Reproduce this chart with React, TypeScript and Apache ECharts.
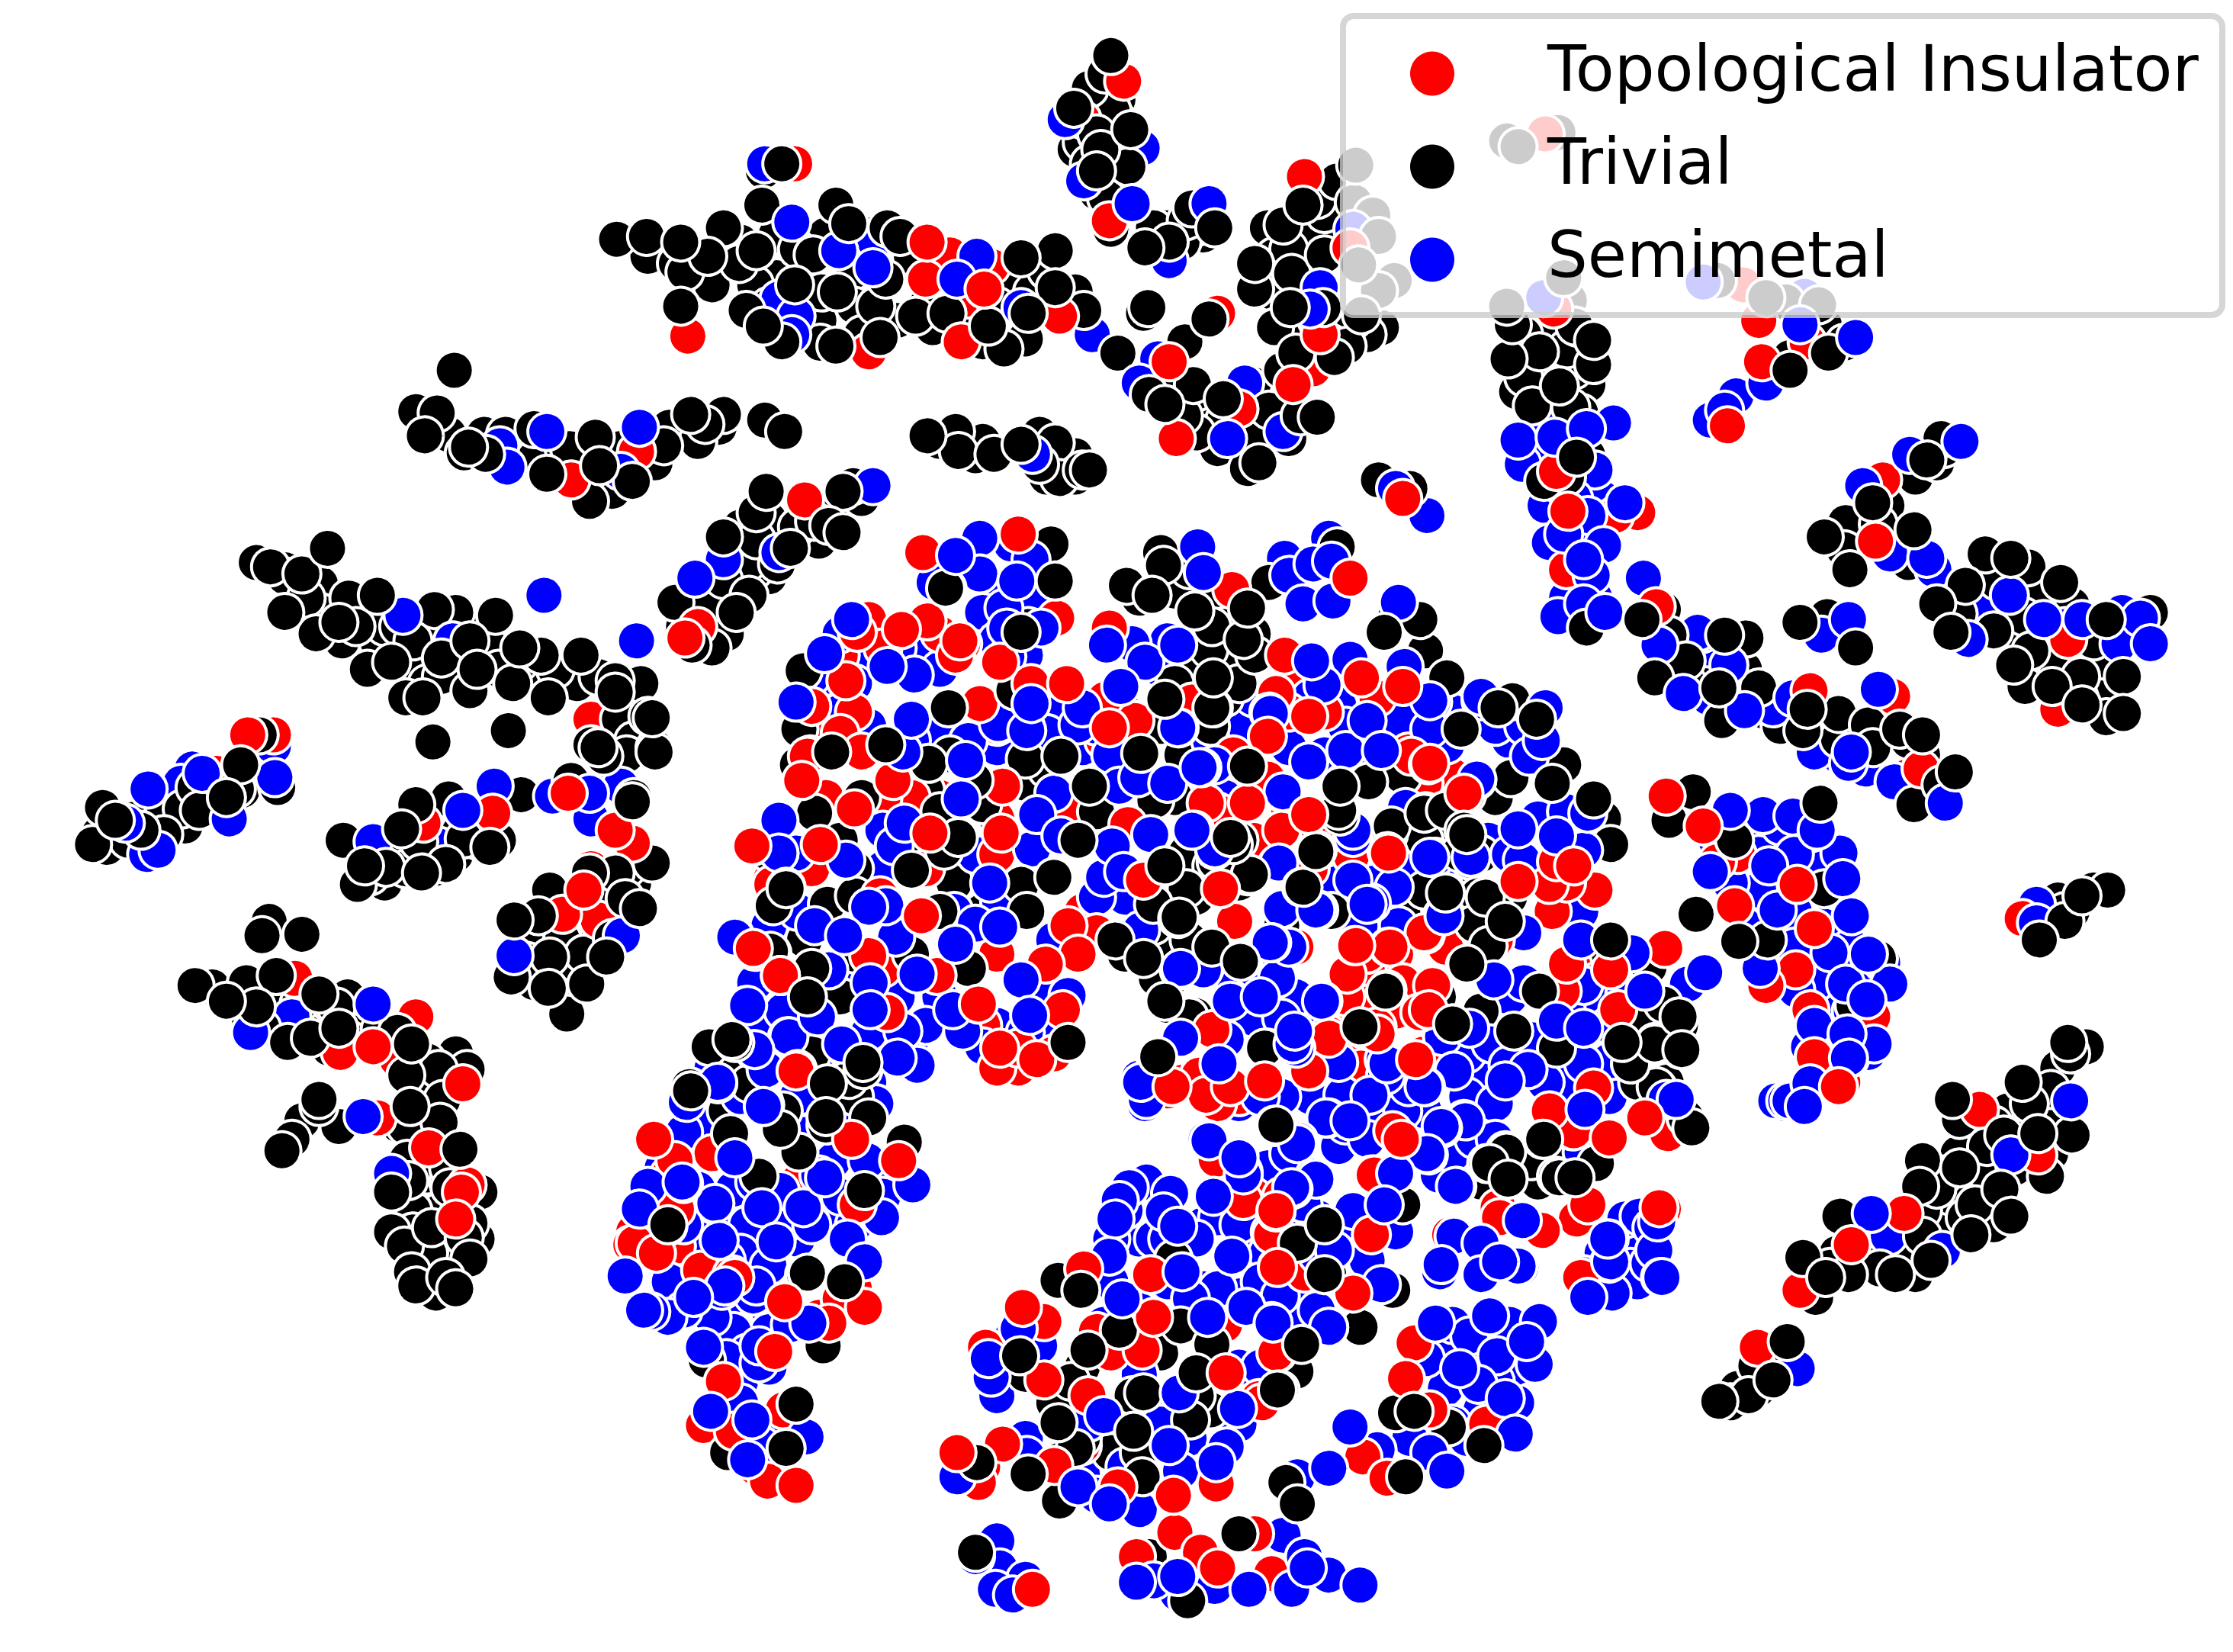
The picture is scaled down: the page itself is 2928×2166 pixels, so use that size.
import React, { useEffect, useRef } from "react";
import * as echarts from "echarts";

type P = [number, number];

const categories = ["Topological Insulator", "Trivial", "Semimetal"];
const colors = ["#ff0000", "#000000", "#0000ff"];

const topologicalBack: P[] = [
[590,460],[610,435],[660,445],[620,455],[575,510],[600,500],[700,510],[720,510],[775,520],[790,500],[660,560],[640,560],[580,560],[700,600],[760,640],[770,655],[690,720],[740,740],[715,750],[700,750],[830,760],[855,775],[870,770],[905,500],[915,470],[930,500],[965,500],[1000,550],[1020,545],[855,570],[890,600],[880,590],[925,580],[960,670],[980,670],[1015,665],[945,720],[950,735],[1000,740],[1010,720],[1120,625],[1100,620],[1050,640],[860,820],[880,840],[900,840],[860,930],[850,950],[770,935],[780,950],[745,1000],[760,1015],[690,1030],[985,690],[960,680],[1150,700],[1115,680],[1110,665],[470,825],[445,865],[475,875],[495,905],[575,925],[600,905],[530,1030],[505,1000],[655,190],[680,210],[690,190],[1095,340],[1150,360],[415,505],[300,800],[315,830],[415,610],[590,515],[1340,545],[1220,600],
[700,575],[620,560],[570,610],[650,610],[750,570],[620,680],[700,670],[920,610],[905,570],[910,665],[960,705],[980,710],[945,700],[1050,660],[1090,640],[500,810],[560,830]
];

const trivialBack: P[] = [
[455,180],[490,180],[505,185],[520,170],[545,165],[560,175],[600,190],[610,165],[580,165],[640,180],[650,215],[630,225],[600,215],[615,215],[575,225],[530,200],[545,195],[500,200],[475,185],[540,215],[605,235],[655,230],[680,225],[700,215],[710,200],[735,190],[725,205],[755,205],[690,240],[705,245],[720,238],
[765,80],[785,70],[760,100],[785,100],[765,115],[780,125],[785,85],[755,105],[770,135],[790,105],[775,70],[820,160],[810,160],[845,165],[830,170],[838,160],
[820,265],[845,280],[825,275],[850,300],[855,315],[870,315],[880,310],[895,300],[860,295],[880,270],[900,260],[893,205],[895,180],[915,175],[915,205],[925,165],[905,175],[890,160],[930,150],[945,130],[925,140],[905,230],[895,230],[925,225],[960,235],[970,230],[950,225],
[300,300],[315,305],[340,305],[355,305],[395,320],[435,315],[430,345],[410,345],[370,320],[400,315],[470,300],[490,310],[505,300],[460,325],
[660,310],[690,310],[685,320],[730,305],[755,320],[735,335],[755,335],
[520,370],[540,365],[525,395],[540,405],[500,420],[510,445],[480,440],[530,400],[560,370],[575,380],[570,355],[590,360],[605,350],[520,410],[495,425],[500,455],
[200,405],[225,410],[245,420],[225,430],[240,450],[255,430],[270,440],[285,470],[280,440],[300,445],[320,430],[335,440],[310,475],[345,455],[350,470],[375,475],[390,470],[405,480],[420,475],[440,495],[435,505],[450,480],[445,520],[430,545],[440,530],[300,480],[285,490],[265,450],[215,420],[200,400],[180,395],[365,465],[330,485],
[80,580],[70,585],[95,575],[120,570],[130,580],[115,565],[150,560],[170,555],[180,545],[185,530],[75,595],[90,590],
[260,600],[270,590],[280,600],[285,610],[305,590],[300,570],[320,600],[335,590],[350,590],[305,610],[270,620],[260,615],[310,575],
[155,695],[170,700],[190,700],[200,710],[210,705],[225,715],[250,720],[260,725],[275,740],[290,750],[300,745],[320,740],[295,765],[280,790],[300,790],[295,810],[315,820],[300,825],[280,825],[310,850],[330,845],[290,850],[310,870],[290,865],[315,885],[300,895],[275,865],[335,870],[245,730],[215,725],[175,715],
[400,630],[415,640],[405,655],[395,660],[375,660],[370,675],[395,680],[410,670],[420,660],[440,610],[445,620],[425,625],[405,680],[375,690],
[1290,880],[1310,880],[1320,870],[1340,875],[1360,860],[1350,850],[1370,840],[1365,825],[1390,820],[1395,805],[1415,820],[1420,795],[1445,790],[1440,765],[1410,780],[1425,775],[1445,750],[1465,735],[1400,790],[1340,880],[1375,810],[1360,835],[1305,865],[1285,890],[1345,895],[1440,810],[1400,860],[1380,855],
[1245,950],[1220,975],[1235,975],[1215,985],[1455,640],[1440,650],[1470,625],
[1300,385],[1325,365],[1335,380],[1290,375],[1340,395],[1370,420],[1385,415],[1405,400],[1430,420],[1410,445],[1395,440],[1430,470],[1445,470],[1455,425],[1470,450],[1475,470],[1460,490],[1475,490],[1440,460],[1345,335],[1360,325],[1325,355],[1365,315],
[1180,450],[1195,445],[1200,470],[1225,470],[1230,495],[1250,510],[1280,515],[1300,510],[1320,515],[1340,520],[1350,530],[1360,560],[1240,500],[1185,480],[1275,505],
[1070,265],[1085,260],[1105,260],[1115,270],[1090,285],[1110,290],[1070,235],[1085,235],[1100,245],[1065,275],[1100,335],[1115,320],
[800,420],[825,415],[835,400],[850,420],[860,440],[880,445],[825,480],[860,470],[860,490],[840,470],[870,480],[815,510],[850,510],[860,530],[845,610],[840,630],[860,610],[825,665],[810,650],[835,660],[820,690],[800,660],[790,670],[1010,580],[1000,590],[1040,600],[1050,640],[1060,630],[1130,670],[1170,710],[1150,720],[1180,720],[1150,760],[1170,760],[1100,810],[1060,815],[1075,815],[1080,830],[1040,830],[760,960],[740,985],[720,965],[760,1010],[785,1000],[800,1020],[780,1020],[745,1025],
[650,555],[690,565],[720,550],[660,570],[640,590],[605,560],[590,590],[600,610],[670,620],[735,540],[770,570],[660,640],[690,640],[640,670],[565,660],[600,670],[680,680],
[870,590],[885,600],[870,620],[935,640],[900,650],[1010,700],[1040,710],[985,640],[1000,625],[1030,620],[985,545],[1000,555],[1050,560],[830,530],[825,560],[815,950],[795,980],[850,990],[840,980],
[510,780],[550,780],[580,790],[600,770],[520,745],[570,740],[545,710],[590,700]
];

const semimetalBack: P[] = [
[470,830],[490,835],[515,835],[480,860],[500,860],[525,860],[490,870],[520,880],[460,860],[470,900],[490,905],[510,885],[530,880],[550,860],[560,870],[570,860],[580,850],[590,840],[600,860],[620,840],[610,830],[575,825],[585,815],[530,830],[490,790],[520,770],[480,795],[565,770],[610,760],[625,740],[640,730],[610,725],[590,745],[545,745],[500,750],[530,720],[555,700],[530,690],[560,690],[595,690],[515,910],[500,925],[540,920],[555,930],[540,935],[480,920],[515,935],[525,950],[520,970],[510,985],[545,1000],[535,1015],[540,960],[480,840],[465,820],
[590,445],[610,460],[630,455],[650,450],[600,480],[580,475],[570,475],[660,470],[690,430],[695,410],[725,420],[720,460],[700,450],[735,420],[590,500],[610,510],[640,520],[660,515],[680,520],[700,525],[735,515],[745,500],[770,510],[760,525],[780,530],[780,580],[685,600],[620,610],[670,640],[740,660],[770,630],[790,630],[560,640],[540,650],[630,700],[660,700],[730,695],[700,720],[720,725],[740,725],[690,735],[650,720],[550,710],[575,755],[560,770],[600,780],[615,775],[570,790],
[820,450],[815,470],[850,520],[870,510],[880,490],[910,480],[920,490],[940,495],[945,510],[975,515],[995,500],[1020,500],[1050,510],[1060,520],[1070,510],[860,560],[905,525],[930,530],[960,530],[940,620],[965,620],[990,610],[1015,610],[1045,590],[1060,600],[1080,575],[1100,570],[955,650],[1070,655],[1110,640],[1070,690],[1060,700],[1100,710],[1120,700],[1130,720],[1075,730],[910,700],[880,680],[860,680],[880,715],[900,715],[925,710],[1030,740],[1040,750],[1085,760],[1100,760],[1130,745],[1130,770],[1050,775],[1000,780],[985,780],[965,780],[945,790],[920,770],[900,770],[890,820],[905,810],[940,805],[960,800],[1010,825],[1035,800],[1020,810],[1050,800],[1030,770],[850,770],[870,775],[885,770],
[805,830],[790,850],[800,870],[820,870],[845,860],[840,870],[855,855],[870,860],[870,880],[890,880],[905,860],[915,845],[925,855],[950,850],[955,870],[960,885],[940,860],[930,880],[915,910],[925,920],[905,930],[885,900],[870,910],[855,905],[845,905],[820,900],[800,920],[780,900],[810,870],[780,870],[775,930],[800,965],[820,990],[835,1010],[870,960],[885,960],[870,1000],[815,1000],[730,945],[710,940],[700,980],[720,1010],[760,1035],[790,1030],[845,1030],[770,1050],[800,1060],
[1020,930],[1040,940],[1060,930],[1015,945],[1065,960],[1035,955],[1050,970],[1015,975],[1040,990],[1065,985],[1020,1000],[990,1010],[1030,1010],[1050,1000],
[1125,880],[1145,870],[1145,890],[1120,905],[1150,900],
[1225,580],[1250,580],[1270,590],[1205,590],[1235,600],[1260,600],[1280,610],[1215,620],[1235,625],[1260,640],[1225,650],[1260,665],[1280,650],[1300,665],[1250,670],[1275,690],[1300,680],[1315,690],[1285,705],[1305,720],[1285,730],[1300,710],[1270,735],[1285,755],[1250,775],
[1100,310],[1085,320],[1120,330],[1085,355],[1105,350],[1125,350],[1110,380],[1100,390],[1120,420],[1100,420],
[1395,420],[1420,425],[1450,440],[1480,445],[1500,445],[1490,430],[1465,450],
[1240,490],[1200,490],[1180,470],[1200,455],[1290,530],[1310,540],[135,540],[115,560],[100,590]
];

const topological: P[] = [
[558,115],[401,337],[447,317],[651,170],[667,179],[696,187],[650,196],[691,203],[610,247],[675,240],[744,222],[821,254],[855,220],[826,308],[870,287],[908,270],[922,259],[916,124],[927,235],[789,57],[760,84],[779,155],[483,236],[948,174],[1085,94],[1091,217],[1224,200],[565,351],[490,440],[481,448],
[648,388],[715,375],[742,434],[602,444],[633,442],[674,450],[651,436],[676,452],[671,460],[702,465],[594,478],[570,496],[724,480],[749,480],[688,494],[776,491],[797,506],[779,511],[837,493],[569,530],[605,528],[563,548],[627,548],[704,552],[600,568],[653,585],[703,585],[792,579],[529,594],[576,593],[541,618],[618,629],[647,643],[803,618],[750,650],[757,670],[734,677],[687,705],[746,709],[715,736],[702,736],[728,744],[610,671],[658,685],[548,685],[529,666],[560,751],[623,711],
[865,414],[948,406],[779,441],[902,460],[956,476],[985,482],[967,490],[896,487],[919,503],[890,517],[866,530],[890,547],[991,531],[1004,536],[1030,558],[847,564],[876,564],[919,572],[900,583],[949,601],[975,599],[857,624],[867,647],[1001,656],[951,664],[976,665],[946,684],[1006,692],[851,723],[967,721],[933,726],[997,711],[919,752],[888,759],[842,755],[820,766],[864,763],[994,744],[956,750],
[989,528],[1003,537],[1028,557],[948,600],[974,598],[1093,605],[1105,608],[1088,621],[1066,619],[1000,655],[952,664],[975,665],[1169,666],[1100,677],[1131,681],[1097,696],[1136,709],[1003,709],[823,763],[847,769],[1119,764],[1171,796],[1130,799],[1104,794],[1088,780],[854,814],[984,800],[963,825],[1107,856],[1083,864],[1165,848],[1052,848],[1018,867],
[192,516],[174,516],[152,543],[297,578],[346,571],[399,557],[444,592],[432,583],[395,642],[410,625],[420,646],[207,687],[239,739],[262,735],[292,714],[279,744],[325,761],[301,806],[265,785],[328,832],[324,837],[320,856],
[567,496],[567,531],[542,621],[528,594],[530,668],[548,685],[559,752],[459,800],[474,815],[475,849],[446,873],[461,880],[492,892],[514,895],[598,800],[631,815],[602,846],[443,874],[516,897],[551,914],[590,912],[607,918],[582,929],[544,949],[508,970],[550,990],[552,1037],[559,1043],[494,1001],[515,1005],[539,1040],
[725,1116],[825,1076],[843,1090],[881,1077],[855,1101],[893,1105],[798,1093],[873,843],[896,851],[892,865],[761,891],[808,895],[897,890],[916,894],[810,925],[733,928],[718,918],[802,948],[692,946],[733,969],[861,964],[897,950],[884,982],[764,980],[672,1020],[704,1014],[740,1029],[785,1044],[824,1050],[854,1042],[687,1041],
[933,729],[967,726],[920,752],[978,794],[965,825],[896,850],[963,867],[897,889],[893,867],[950,908],[896,950],[886,985],[1053,855],[1115,846],[1105,794],[1168,849],[1110,897],[1155,785],[1275,741],[1294,760],[993,943],[987,968],[1044,1000],[1004,990],[957,1023],[974,1038],[1390,779],[1431,811],[1337,852],[1300,874],[1264,906],[1234,946],
[1093,331],[1101,359],[1134,362],[1100,400],[1163,426],[1271,485],[1329,489],[1349,540],[1237,254],[1213,299],[1269,240],[1235,225],[1322,337],[1317,380],[1452,449],[1445,498],[1170,559],[1196,580],[1206,605],[1218,636],[1274,652],[1262,621],[1261,681],[1240,692],[1274,742],[1291,763],[1271,709],[1315,714],[1420,645],[985,350]
];

const trivial: P[] = [
[319,260],[292,289],[307,290],[329,314],[375,301],[418,307],[384,333],[421,327],[466,313],[414,352],[495,298],[485,291],[508,291],[537,295],[551,303],[298,306],[326,318],[341,319],[444,338],[549,115],[536,120],
[433,168],[454,166],[478,170],[508,160],[535,144],[497,180],[531,176],[481,191],[519,185],[587,144],[596,157],[571,179],[623,160],[632,166],[717,181],[741,176],[622,196],[741,202],[558,200],[577,205],[588,205],[524,218],[536,229],[576,241],[587,243],[549,240],[618,237],[643,222],[665,220],[694,229],[722,220],[761,218],[785,248],[803,220],[806,216],[832,240],[849,224],[807,277],[818,284],[840,304],[876,329],[884,325],[859,280],[891,288],[910,248],[913,292],[925,293],[905,308],[831,292],[838,270],[881,185],[881,203],[907,192],[901,158],[915,144],[939,127],[930,179],[929,216],[906,216],[946,243],[937,251],[478,215],
[952,116],[951,142],[964,151],[968,166],[954,186],[979,197],[968,204],[956,221],[1066,103],[1094,93],[1058,99],[1098,195],[1058,215],[1102,211],[1106,229],[1206,197],[1240,209],[1254,212],[1277,214],
[776,52],[780,39],[781,78],[770,94],[773,105],[770,120],[777,139],[792,117],[794,91],[754,76],[765,62],[780,161],[821,170],[804,174],[833,155],[837,146],[853,160],
[651,306],[671,303],[673,317],[698,319],[717,312],[741,311],[730,326],[760,330],[765,330],[744,336],
[531,360],[538,345],[508,377],[531,379],[508,407],[526,418],[517,430],[474,423],[486,453],[592,345],[582,369],[572,366],[546,396],[555,385],[592,374],[599,341],
[737,382],[665,413],[741,408],[722,440],[738,382],[664,413],[717,444],[564,471],[712,485],[666,497],[818,491],[852,497],[561,512],[584,528],[622,523],[667,530],[720,533],[745,531],[801,529],[652,536],[560,537],[684,548],[765,552],[572,571],[811,562],[673,588],[757,590],[663,597],[540,599],[640,611],[552,623],[581,635],[600,629],[543,636],[740,616],[717,621],[721,640],[783,660],[750,732],[570,680],[541,668],[567,700],[606,746],[596,758],[526,761],[581,761],[514,730],
[815,388],[817,397],[791,411],[809,418],[891,409],[939,384],[839,429],[876,427],[849,456],[851,440],[873,449],[852,476],[881,460],[980,433],[997,435],[972,444],[1001,457],[1016,476],[1026,512],[876,538],[943,550],[961,549],[941,573],[864,588],[1001,570],[977,580],[925,597],[1028,583],[833,599],[851,608],[878,614],[915,623],[1016,627],[833,624],[810,635],[828,644],[1038,629],[873,674],[851,665],[1030,677],[1035,649],[812,687],[803,673],[973,696],[820,706],[839,713],[956,722],[1020,719],[890,736],[812,744],
[851,497],[941,552],[960,550],[1037,548],[1090,550],[1119,561],[1061,546],[1098,537],[1052,497],[1079,505],[1062,492],[1126,575],[940,569],[924,598],[876,615],[854,605],[866,593],[818,608],[975,586],[1000,571],[1015,569],[1030,586],[1025,599],[1131,593],[914,623],[1015,627],[1043,630],[1057,647],[827,645],[871,675],[1045,664],[1029,678],[974,695],[1131,660],[1158,679],[1081,696],[1168,705],[1179,714],[1093,736],[1020,719],[1063,724],[1139,732],[1162,732],[1180,737],[1145,747],[955,721],[888,736],[835,714],[818,703],[813,742],[1167,777],[1163,763],[1184,785],[1083,800],[895,790],[1057,808],[1044,817],[1059,828],[1093,826],[1103,828],
[182,516],[169,537],[195,553],[137,553],[166,554],[159,560],[128,568],[140,569],[72,567],[81,576],[65,593],[115,586],[99,583],[304,521],[357,513],
[241,590],[292,565],[282,582],[294,591],[315,561],[271,609],[256,608],[251,621],[313,607],[344,595],[296,613],[326,589],[366,558],[401,548],[444,563],
[190,398],[212,403],[230,385],[265,418],[348,432],[305,428],[238,437],[275,465],[297,490],[222,445],[258,470],[335,470],[380,460],[408,460],[432,478],[455,503],[460,525],[360,480],[310,462],[420,525],[445,560],[385,490],[424,531],[458,504],[460,528],[415,523],[432,486],[200,430],[250,440],[290,450],[330,450],[365,455],
[458,606],[432,613],[378,643],[361,646],[386,625],[430,659],[439,631],[426,672],[386,672],[359,686],[412,691],[385,694],[396,701],[398,712],[414,613],[449,638],
[189,647],[184,657],[212,656],[137,692],[149,693],[173,690],[194,685],[224,698],[244,700],[236,707],[180,707],[159,703],[184,722],[202,732],[218,729],[238,722],[231,736],[267,723],[279,725],[289,733],[328,751],[308,751],[285,755],[288,777],[301,772],[311,772],[309,788],[323,807],[285,791],[286,814],[287,829],[275,837],[337,837],[316,834],[326,869],[330,884],[301,880],[284,875],[289,893],[313,897],[330,859],[303,862],[292,903],[320,905],[306,908],
[238,791],[224,777],[224,772],[212,787],[205,800],[198,808],
[552,624],[542,669],[498,735],[516,732],[485,766],[547,793],[513,796],[561,809],[469,860],[565,895],[484,763],[548,793],[580,784],[610,785],[606,751],[635,802],[607,836],[533,826],[469,861],[567,894],[593,900],[496,955],[578,945],[559,986],[552,1017],[518,1022],[511,1020],
[685,1090],[870,1077],[807,1093],[834,1124],[895,791],[759,906],[743,899],[824,884],[911,873],[930,895],[829,931],[786,934],[764,948],[716,952],[752,970],[851,944],[840,964],[914,944],[803,978],[899,976],[743,999],[796,1005],[836,997],[755,1017],[686,1027],[722,1035],[802,1037],[744,1054],[930,860],
[896,790],[933,895],[978,906],[955,932],[897,976],[910,963],[985,846],[1095,827],[1106,827],[1059,827],[1058,809],[1046,817],[1084,800],[1121,817],[1145,747],[1162,733],[1181,737],[1164,764],[1169,776],[1188,792],[993,991],[980,992],[1017,1002],[1042,1015],[987,1037],[903,1041],[911,1056],
[1454,740],[1420,760],[1376,786],[1407,797],[1431,796],[1371,772],[1455,797],[1350,815],[1376,820],[1405,835],[1437,826],[1348,833],[1387,846],[1412,854],[1292,854],[1350,868],[1384,867],[1356,885],[1320,891],[1331,895],[1266,883],[1282,897],[1275,911],[1298,895],[1452,732],[1255,942],[1233,959],[1228,980],[1207,984],[1245,969],
[1108,230],[1081,247],[1119,256],[1095,271],[1103,286],[1059,252],[1062,228],[1107,321],[1084,338],[1076,285],[1119,239],[1153,435],[1168,428],[1172,446],[1114,441],[1211,446],[1226,448],[1184,464],[1162,476],[1207,483],[1235,483],[1209,506],[1266,513],[1269,498],[1291,519],[1312,509],[1334,512],[1350,516],[1291,501],[1315,525],[1363,551],[1373,542],[1344,565],
[1283,433],[1264,437],[1303,455],[1257,251],[1295,241],[1284,248],[1257,260],[1281,228],
[1363,308],[1353,323],[1315,353],[1296,367],[1319,368],[1344,372],[1281,377],[1295,386],[1299,400],[1394,389],[1412,392],[1424,398],[1402,408],[1380,411],[1360,424],[1375,431],[1447,409],[1400,443],[1370,444],[1421,433],[1426,457],[1414,467],[1441,482],[1461,475],[1510,430],[1491,475],[1479,435],[1422,482],[1479,504],[1491,501],[1462,495],
[1172,576],[1189,556],[1218,590],[1278,564],[1281,624],[1191,642],[1241,660],[1221,661],[1319,673],[1302,706],[1480,625],[1462,629],[1445,632],[1450,640],[1450,647],[1432,660],[968,337],[990,343]
];

const semimetal: P[] = [
[351,313],[384,303],[436,331],[449,300],[356,328],[537,115],[556,156],[589,176],[614,169],[686,180],[613,188],[672,196],[547,210],[559,222],[556,235],[717,216],[767,235],[813,252],[800,269],[862,308],[874,269],[901,303],[927,202],[920,217],[934,241],
[950,161],[1084,209],[1196,198],[1267,208],[748,84],[761,127],[795,143],[802,104],[849,143],[821,183],[725,319],[748,330],[547,388],[508,393],[488,406],[447,450],[613,341],
[688,378],[671,390],[710,382],[724,393],[688,403],[714,408],[656,409],[705,427],[707,441],[731,441],[707,461],[598,435],[579,459],[623,468],[642,474],[559,493],[724,494],[640,505],[701,508],[721,513],[760,497],[787,482],[757,509],[828,511],[634,528],[678,534],[786,552],[799,546],[820,550],[675,561],[740,557],[728,572],[547,576],[635,578],[620,583],[808,586],[628,594],[745,587],[725,596],[781,594],[547,599],[594,604],[559,599],[622,636],[610,637],[695,620],[702,633],[685,649],[702,651],[789,612],[775,616],[801,653],[717,688],[723,713],[750,699],[676,724],[669,709],[671,663],[629,658],[572,650],[593,657],[516,658],[582,681],[611,690],[644,684],[524,706],[553,728],[529,737],[574,714],[591,733],[634,724],[644,748],[630,743],[611,709],[536,773],[538,751],
[841,384],[845,402],[902,392],[905,404],[922,396],[935,394],[933,378],[915,424],[936,422],[777,453],[795,452],[804,465],[827,453],[921,464],[948,463],[929,481],[986,468],[982,423],[1006,493],[1040,489],[891,500],[960,506],[983,505],[1004,512],[853,537],[844,539],[919,535],[901,556],[945,527],[970,527],[1016,523],[1037,547],[839,583],[853,596],[987,567],[898,606],[950,588],[1033,602],[1008,602],[979,623],[963,634],[950,618],[901,636],[926,639],[1014,643],[893,662],[982,650],[828,681],[845,681],[885,700],[897,687],[929,703],[864,703],[909,724],[1013,728],[861,730],[910,736],[856,747],[800,757],[943,769],[973,755],[1000,763],[1021,752],
[827,511],[892,501],[1004,492],[1040,492],[1085,497],[1083,520],[842,539],[899,556],[1074,531],[1115,571],[837,583],[897,607],[853,597],[950,583],[960,635],[1032,604],[1004,602],[1066,582],[1093,587],[1069,604],[1112,597],[900,638],[924,639],[1013,643],[846,679],[829,680],[892,662],[905,665],[1049,688],[1110,660],[1146,669],[1112,692],[1185,691],[1197,683],[1155,696],[1141,698],[1093,717],[1112,722],[1032,722],[1047,733],[1059,748],[1073,751],[1057,759],[1112,747],[911,735],[928,703],[829,729],[855,748],[940,746],[972,744],[962,769],[999,762],[989,763],[805,772],[1170,772],[1028,786],[1013,792],[931,785],[911,803],[943,772],[870,811],[847,800],[873,825],[979,824],[1003,811],[1022,833],[907,834],[923,826],[1069,857],[1160,862],[1129,870],[1141,856],[1162,878],[1131,886],[1167,897],[1112,895],[1040,873],[1054,886],[1066,889],[1011,893],
[192,524],[193,546],[104,554],[127,550],[142,543],[161,575],[88,578],[103,600],[111,597],[262,591],[325,569],[308,594],[347,552],[388,559],[414,557],[436,552],[382,418],[318,450],[283,432],[415,575],[361,671],[437,657],[262,705],[205,714],[176,725],[255,784],[275,824],
[546,575],[547,599],[516,657],[525,706],[554,728],[530,737],[504,761],[536,777],[482,774],[516,813],[455,833],[479,830],[548,836],[502,845],[535,848],[449,849],[564,848],[505,871],[545,872],[439,896],[540,889],[531,903],[509,903],[504,760],[537,776],[609,815],[579,827],[641,832],[619,855],[480,831],[595,870],[607,886],[529,910],[507,906],[487,911],[568,929],[469,925],[457,921],[452,920],[533,945],[510,954],[494,946],[533,957],[499,991],[520,985],[566,1009],[525,1025],[528,997],
[700,1082],[702,1101],[685,1093],[711,1120],[706,1111],[720,1109],[699,1116],[916,1093],[901,1078],[810,1110],[827,1107],[798,1111],[827,1119],[877,1116],[907,1116],[918,1101],[853,1114],[933,1106],[955,1113],
[801,760],[804,775],[931,785],[849,801],[870,813],[873,823],[793,834],[786,843],[783,856],[822,838],[817,851],[827,861],[852,840],[779,882],[788,912],[830,893],[865,882],[899,910],[875,918],[894,929],[933,932],[836,912],[848,925],[715,933],[694,954],[696,967],[828,978],[869,989],[775,994],[764,999],[821,1015],[861,1016],[854,1027],[721,1022],[672,1037],[757,1044],[779,1056],[829,1033],[925,881],
[908,733],[974,747],[1001,763],[933,785],[912,801],[948,787],[1029,787],[1012,791],[1002,810],[980,824],[1023,833],[924,828],[908,835],[972,846],[980,865],[937,878],[970,902],[933,932],[893,928],[1021,868],[1040,873],[1053,886],[1068,890],[1012,888],[1040,895],[1069,857],[1111,809],[1130,870],[1162,878],[1164,858],[1151,854],[1130,887],[1166,897],[1115,911],[1132,908],[1158,887],[1113,779],[1177,772],[1299,728],[1299,743],[1316,733],[1271,761],[1288,763],[1254,773],[1267,777],
[1008,929],[1032,938],[1046,924],[1081,928],[1072,942],[1051,952],[1001,954],[1078,958],[1025,961],[1038,972],[1057,982],[1064,1007],[948,1002],[967,1018],[1004,1020],[1016,1033],[933,1031],[911,1037],
[1454,773],[1412,811],[1314,852],[1326,868],[1364,878],[1262,961],
[1133,297],[1079,295],[1066,309],[1092,307],[1114,301],[1069,326],[1115,362],[1141,353],[1098,375],[1088,381],[1126,383],[1118,404],[1112,393],[1154,406],[1094,433],[1112,424],[1127,430],[1192,444],[1165,453],[1214,467],[1182,487],[1245,497],[1259,490],[1225,499],[1319,484],[1274,528],[1298,536],[1300,528],[1366,564],[1330,549],
[1279,446],[1298,435],[1303,237],[1219,278],[1201,295],[1211,288],[1264,228],[1240,269],
[1377,310],[1341,319],[1308,341],[1327,389],[1358,400],[1353,392],[1411,418],[1390,430],[1435,435],[1462,435],[1382,449],[1488,452],[1503,434],[1510,452],
[1215,569],[1238,572],[1259,573],[1276,583],[1201,612],[1242,608],[1292,599],[1294,617],[1248,639],[1300,643],[1285,669],[1236,680],[1312,670],[1322,676],[1296,691],[1327,691],[1311,702],[1261,695],[1274,720],[1297,726],[1298,743],[1312,739],[1270,762],[1257,773],[1267,777],[1247,773],[1430,635],[1430,648],[980,343],[1002,362]
];

const LAYERS = 4;
const classNames = [categories[1], categories[0], categories[2]];
const classColors = [colors[1], colors[0], colors[2]];
const backClasses = [trivialBack, topologicalBack, semimetalBack];
const frontClasses = [trivial, topological, semimetal];
// drawing order of the three classes (indices into the lists above) in each front layer
const layerOrder = [[2, 0, 1], [0, 1, 2], [1, 2, 0], [2, 1, 0]];

function makeSeries(name: string, color: string, data: P[]) {
  return {
    type: "scatter",
    name,
    data,
    symbol: "circle",
    symbolSize: 50,
    silent: true,
    itemStyle: { color, borderColor: "#ffffff", borderWidth: 4, opacity: 1 },
    z: 2,
  };
}

export default function App() {
  const ref = useRef<HTMLDivElement>(null);
  useEffect(() => {
    const chart = echarts.init(ref.current!, undefined, { renderer: "svg" });
    const series: any[] = [];
    for (let layer = 0; layer < 2; layer++) {
      [2, 1, 0].forEach((c) => {
        series.push(makeSeries(classNames[c], classColors[c], backClasses[c].filter((_, i) => i % 2 === layer)));
      });
    }
    for (let layer = 0; layer < LAYERS; layer++) {
      layerOrder[layer].forEach((c) => {
        series.push(makeSeries(classNames[c], classColors[c], frontClasses[c].filter((_, i) => i % LAYERS === layer)));
      });
    }
    chart.setOption({
      animation: false,
      backgroundColor: "#ffffff",
      grid: { left: 0, right: 0, top: 0, bottom: 0 },
      xAxis: { type: "value", min: 0, max: 1568, show: false },
      yAxis: { type: "value", min: 0, max: 1160, inverse: true, show: false },
      legend: {
        data: categories,
        orient: "vertical",
        left: 1849,
        top: 49,
        padding: 0,
        itemGap: 27,
        itemWidth: 292,
        itemHeight: 58,
        icon: "circle",
        selectedMode: false,
        itemStyle: { borderWidth: 0 },
        formatter: "{a|{name}}",
        textStyle: {
          fontFamily: "DejaVu Sans",
          fontSize: 83.3,
          color: "#000000",
          rich: {
            a: { fontFamily: "DejaVu Sans", fontSize: 83.3, color: "#000000", lineHeight: 83, padding: [0, 0, 12, 0] },
          },
        },
        z: 5,
      },
      graphic: [
        {
          type: "rect",
          z: 4,
          silent: true,
          shape: { x: 1761, y: 21, width: 1153, height: 392, r: 14 },
          style: { fill: "rgba(255,255,255,0.8)", stroke: "rgba(204,204,204,0.8)", lineWidth: 8 },
        },
      ],
      series,
    });
    return () => chart.dispose();
  }, []);
  return <div ref={ref} style={{ position: "absolute", left: 0, top: 0, width: 2928, height: 2166 }} />;
}
